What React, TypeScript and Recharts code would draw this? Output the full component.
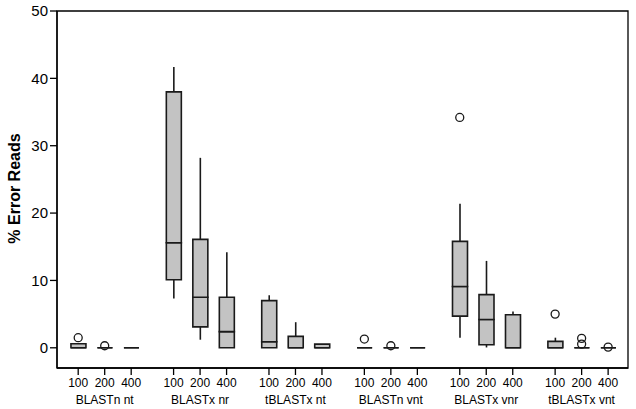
import React from 'react';
import {
  ComposedChart,
  Bar,
  Scatter,
  XAxis,
  YAxis,
  ReferenceArea,
} from 'recharts';

// groups and read lengths along the x axis
const groups = ['BLASTn nt', 'BLASTx nr', 'tBLASTx nt', 'BLASTn vnt', 'BLASTx vnr', 'tBLASTx vnt'];
const sizes = ['100', '200', '400'];

// box statistics, one entry per box (group by group, 100/200/400)
const mins = [0, 0, 0, 7.3, 1.2, 0, 0, 0, 0, 0, 0, 0, 1.5, 0.05, 0, 0, 0, 0];
const q1s = [0, 0, 0, 10.1, 3.1, 0, 0, 0, 0, 0, 0, 0, 4.7, 0.45, 0, 0, 0, 0];
const medians = [0, 0, 0, 15.6, 7.5, 2.4, 0.9, 0, 0, 0, 0, 0, 9.1, 4.2, 0, 0, 0, 0];
const q3s = [0.6, 0, 0, 38.0, 16.1, 7.5, 7.0, 1.7, 0.55, 0, 0, 0, 15.8, 7.9, 4.9, 0.95, 0, 0];
const maxs = [0.6, 0, 0, 41.7, 28.2, 14.2, 7.8, 3.8, 0.55, 0, 0, 0, 21.4, 12.9, 5.4, 1.5, 0, 0];
const outliers: number[][] = [
  [1.5], [0.3], [],
  [], [], [],
  [], [], [],
  [1.3], [0.3], [],
  [34.2], [], [],
  [5.0], [1.4, 0.55], [0.1],
];

const yTicks = [0, 10, 20, 30, 40, 50];

// x position of each box: groups are spread a little wider than the boxes inside them
const GROUP_STEP = 3.6;
const xPos = mins.map((_, i) => Math.floor(i / 3) * GROUP_STEP + (i % 3));

const boxData = mins.map((mn, i) => ({
  x: xPos[i],
  base: mn,
  lowWhisker: q1s[i] - mn,
  lowBox: medians[i] - q1s[i],
  highBox: q3s[i] - medians[i],
  highWhisker: maxs[i] - q3s[i],
}));

const outlierData = outliers.flatMap((vals, i) => vals.map((v) => ({ x: xPos[i], y: v })));

const INK = '#1a1a1a';
const BOX_FILL = '#c3c3c3';

const Whisker = (props: any) => {
  const { x, y, width, height } = props;
  if (!height) return null;
  const cx = x + width / 2;
  return <line x1={cx} x2={cx} y1={y} y2={y + height} stroke={INK} strokeWidth={1.6} />;
};

const BoxPart = (props: any) => {
  const { x, y, width, height } = props;
  const h = height || 0;
  return (
    <path
      d={`M${x},${y} h${width} v${h} h${-width} Z`}
      fill={BOX_FILL}
      stroke={INK}
      strokeWidth={1.6}
    />
  );
};

const Outlier = (props: any) => {
  const { cx, cy } = props;
  return <circle cx={cx} cy={cy} r={4} fill="none" stroke={INK} strokeWidth={1.3} />;
};

const XTick = (props: any) => {
  const { x, y, payload } = props;
  const i = xPos.findIndex((p) => Math.abs(p - payload.value) < 0.01);
  if (i < 0) return null;
  return (
    <g>
      <text x={x} y={y + 10} textAnchor="middle" fontSize={12} fill="#000">
        {sizes[i % 3]}
      </text>
      {i % 3 === 1 && (
        <text x={x} y={y + 27} textAnchor="middle" fontSize={12} fill="#000">
          {groups[Math.floor(i / 3)]}
        </text>
      )}
    </g>
  );
};

export default function App() {
  return (
    <div style={{ position: 'absolute', left: 0, top: 0, fontFamily: '"Liberation Sans", Arial, sans-serif' }}>
      <ComposedChart
        width={636}
        height={409}
        data={boxData}
        margin={{ top: 11, right: 8, left: 0, bottom: 0 }}
      >
        <XAxis
          dataKey="x"
          type="number"
          domain={[-0.8, 20.75]}
          allowDataOverflow
          ticks={xPos}
          interval={0}
          height={41}
          tickSize={7}
          tick={<XTick />}
          stroke="#000"
          strokeWidth={1.3}
        />
        <YAxis
          type="number"
          domain={[-3, 50]}
          allowDataOverflow
          ticks={yTicks}
          width={57}
          tickSize={7}
          tick={{ fontSize: 15, fill: '#000' }}
          stroke="#000"
          strokeWidth={1.3}
          label={{
            value: '% Error Reads',
            angle: -90,
            position: 'insideLeft',
            offset: 14,
            dy: -1,
            style: { fontWeight: 'bold', fontSize: 16, fill: '#000', textAnchor: 'middle' },
          }}
        />
        <ReferenceArea x1={-0.8} x2={20.75} y1={-3} y2={50} fill="none" stroke="#000" strokeWidth={1.3} />
        <Bar dataKey="base" stackId="b" fill="none" barSize={15} isAnimationActive={false} />
        <Bar dataKey="lowWhisker" stackId="b" barSize={15} shape={<Whisker />} isAnimationActive={false} />
        <Bar dataKey="lowBox" stackId="b" barSize={15} shape={<BoxPart />} isAnimationActive={false} />
        <Bar dataKey="highBox" stackId="b" barSize={15} shape={<BoxPart />} isAnimationActive={false} />
        <Bar dataKey="highWhisker" stackId="b" barSize={15} shape={<Whisker />} isAnimationActive={false} />
        <Scatter data={outlierData} dataKey="y" shape={<Outlier />} isAnimationActive={false} />
      </ComposedChart>
    </div>
  );
}
